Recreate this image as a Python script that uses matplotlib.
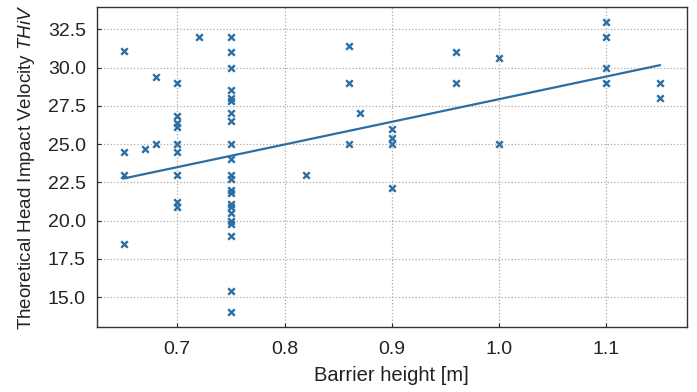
import numpy as np
import matplotlib
matplotlib.use("Agg")
import matplotlib.pyplot as plt

plt.rcParams['font.family'] = ['Liberation Sans', 'DejaVu Sans']
plt.rcParams['mathtext.fontset'] = 'custom'
plt.rcParams['mathtext.rm'] = 'Liberation Sans'
plt.rcParams['mathtext.it'] = 'Liberation Sans:italic'

# Barrier heights and THIV values
x_065 = [0.65] * 4
y_065 = [31.1, 24.5, 23.0, 18.5]
x_067 = [0.67]
y_067 = [24.7]
x_068 = [0.68] * 2
y_068 = [29.4, 25.0]
x_070 = [0.70] * 9
y_070 = [29.0, 26.8, 26.4, 26.1, 25.0, 24.5, 23.0, 21.2, 20.9]
x_072 = [0.72]
y_072 = [32.0]
x_075 = [0.75] * 22
y_075 = [32.0, 31.0, 30.0, 28.5, 28.0, 27.8, 27.0, 26.5, 25.0, 24.0, 23.0,
         22.7, 22.0, 21.8, 21.1, 20.9, 20.5, 20.0, 19.8, 19.0, 15.4, 14.0]
x_082 = [0.82]
y_082 = [23.0]
x_086 = [0.86] * 3
y_086 = [31.4, 29.0, 25.0]
x_087 = [0.87]
y_087 = [27.0]
x_090 = [0.90] * 4
y_090 = [26.0, 25.4, 25.0, 22.1]
x_096 = [0.96] * 2
y_096 = [31.0, 29.0]
x_100 = [1.00] * 2
y_100 = [30.6, 25.0]
x_110 = [1.10] * 4
y_110 = [33.0, 32.0, 30.0, 29.0]
x_115 = [1.15] * 2
y_115 = [29.0, 28.0]

barrier = np.array(x_065 + x_067 + x_068 + x_070 + x_072 + x_075 + x_082 +
                   x_086 + x_087 + x_090 + x_096 + x_100 + x_110 + x_115)
thiv = np.array(y_065 + y_067 + y_068 + y_070 + y_072 + y_075 + y_082 +
                y_086 + y_087 + y_090 + y_096 + y_100 + y_110 + y_115)

# Trend line end points
trend_x = [0.65, 1.15]
trend_y = [22.75, 30.15]

xticks = [0.7, 0.8, 0.9, 1.0, 1.1]
yticks = [15.0, 17.5, 20.0, 22.5, 25.0, 27.5, 30.0, 32.5]

color = '#2b6ea3'

fig = plt.figure(figsize=(6.97, 3.92), dpi=100)
ax = fig.add_axes([0.139, 0.166, 0.846, 0.816])

ax.scatter(barrier, thiv, marker='x', s=22, linewidths=1.7, color=color, zorder=3)
ax.plot(trend_x, trend_y, color=color, lw=1.6, zorder=2)

ax.set_xticks(xticks)
ax.set_yticks(yticks)
ax.set_xticklabels([f"{v:.1f}" for v in xticks])
ax.set_yticklabels([f"{v:.1f}" for v in yticks])
ax.tick_params(direction='in', length=3, labelsize=14, colors='#222222', pad=8)
ax.tick_params(axis='x', pad=10)
ax.grid(True, linestyle=':', color='#aaaaaa', lw=0.9)
ax.set_axisbelow(True)
for s in ax.spines.values():
    s.set_color('#333333')
    s.set_linewidth(1.0)

ax.set_xlabel("Barrier height [m]", fontsize=14.5, color='#222222', labelpad=6)
ax.set_ylabel("Theoretical Head Impact Velocity $\\mathit{THiV}$", fontsize=13.5,
              color='#222222', labelpad=8)

fig.savefig("out.png", dpi=100)
